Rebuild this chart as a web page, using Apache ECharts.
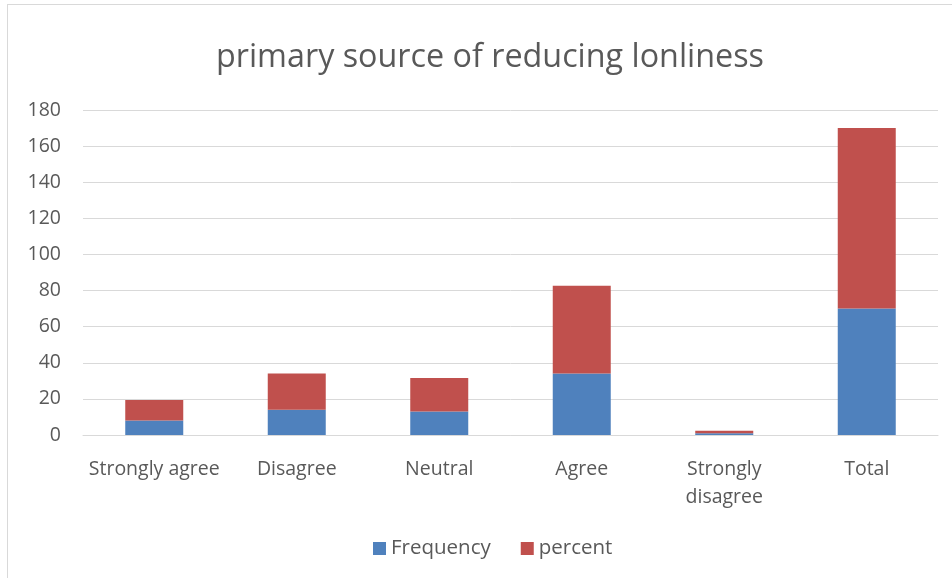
<!DOCTYPE html>
<html>
<head>
<meta charset="utf-8">
<script src="https://cdn.jsdelivr.net/npm/echarts@6/dist/echarts.min.js"></script>
<style>
  html, body { margin: 0; padding: 0; background: #fff; }
  #frame { position: absolute; left: 7px; top: 4px; width: 960px; height: 590px; border: 1px solid #d9d9d9; box-sizing: border-box; }
  #chart { position: absolute; left: 0; top: 0; width: 952px; height: 578px; }
</style>
</head>
<body>
<div id="frame"></div>
<div id="chart"></div>
<script>
// Responses to "primary source of reducing lonliness"
const categories = ['Strongly agree', 'Disagree', 'Neutral', 'Agree', 'Strongly\ndisagree', 'Total'];
const frequency = [8, 14, 13, 34, 1, 70];
const percent = [11.4, 20, 18.6, 48.6, 1.4, 100];
const yTicks = { min: 0, max: 180, interval: 20 };

const textColor = '#595959';
const fontFamily = '"Open Sans", "Liberation Sans", sans-serif';

const chart = echarts.init(document.getElementById('chart'), null, { renderer: 'canvas' });
chart.setOption({
  animation: false,
  title: {
    text: 'primary source of reducing lonliness',
    left: 211,
    top: 37,
    textStyle: { color: textColor, fontSize: 32.3, fontWeight: 'normal', fontFamily }
  },
  legend: {
    bottom: 14,
    left: 368,
    itemWidth: 13,
    itemHeight: 13,
    itemGap: 30,
    icon: 'rect',
    textStyle: { color: textColor, fontSize: 20.5, fontFamily }
  },
  grid: { left: 83, right: 14, top: 110, bottom: 143 },
  xAxis: {
    type: 'category',
    data: categories,
    axisTick: { show: false },
    axisLine: { lineStyle: { color: '#d9d9d9', width: 1 } },
    axisLabel: { color: textColor, fontSize: 19.5, fontFamily, margin: 20, lineHeight: 28, interval: 0 }
  },
  yAxis: {
    type: 'value',
    min: yTicks.min,
    max: yTicks.max,
    interval: yTicks.interval,
    axisLine: { show: false },
    axisTick: { show: false },
    splitLine: { lineStyle: { color: '#d9d9d9', width: 1 } },
    axisLabel: { color: textColor, fontSize: 19.5, fontFamily, margin: 22 }
  },
  series: [
    {
      name: 'Frequency',
      type: 'bar',
      stack: 'total',
      data: frequency,
      barWidth: 58,
      itemStyle: { color: '#4f81bd' }
    },
    {
      name: 'percent',
      type: 'bar',
      stack: 'total',
      data: percent,
      barWidth: 58,
      itemStyle: { color: '#c0504d' }
    }
  ]
});
</script>
</body>
</html>
